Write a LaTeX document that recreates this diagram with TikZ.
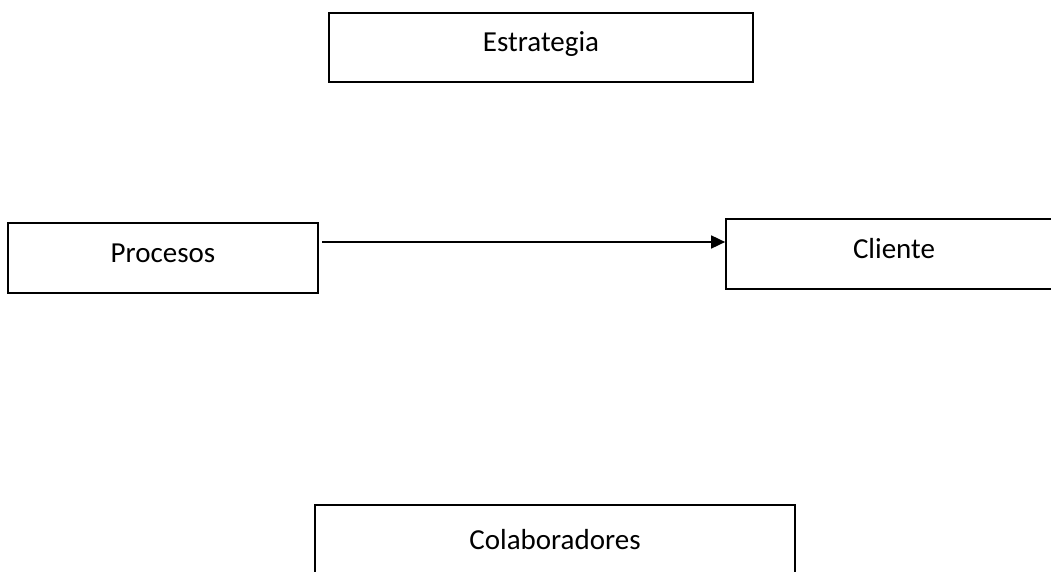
\documentclass[tikz,border=0pt]{standalone}
\usepackage{fontspec}
\setmainfont{Carlito}
\usetikzlibrary{arrows.meta}

\tikzset{
  plain_box/.style={
      draw, line width=1.7pt, fill=white,
      minimum height=70pt, inner sep=0pt,
      text height=20pt, text depth=12pt,
      font=\fontsize{29}{35}\selectfont
    }
}
\def\ArrowTip {Triangle[length=14pt,width=13pt]}

\begin{document}
\begin{tikzpicture}[x=1pt,y=-1pt]
        \clip (0,0) rectangle (1051,572);
        \fill[white] (0,0) rectangle (1051,572);
        \node[plain_box, minimum width=424pt, minimum height=69pt] (estrategia) at (541,47.5) {Estrategia};
        \node[plain_box, minimum width=310pt] (procesos) at (163,258) {Procesos};
        \node[plain_box, minimum width=336pt] (cliente) at (894,254) {Cliente};
        \node[plain_box, minimum width=480pt, minimum height=80pt] (colab) at (555,545) {Colaboradores};
        \coordinate (arr_start) at (322,242);
        \draw[line width=1.7pt,-{\ArrowTip}] (arr_start) -- (arr_start -| cliente.west);
      \end{tikzpicture}
\end{document}
